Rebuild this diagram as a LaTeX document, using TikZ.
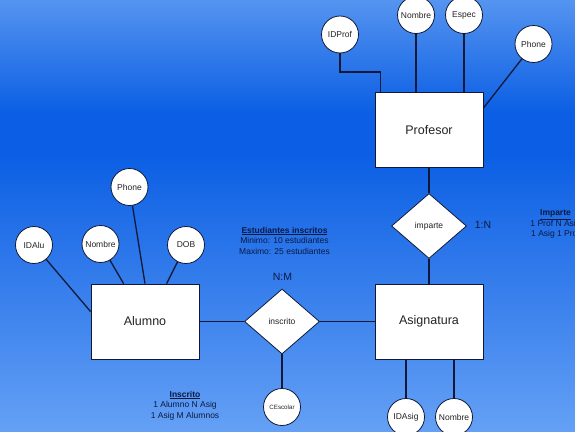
\documentclass[tikz,border=0pt]{standalone}
\usepackage{fontspec}
\setmainfont{Liberation Sans}
\usetikzlibrary{shapes.geometric,calc}
\definecolor{bgtop}{RGB}{85,148,240}
\definecolor{bgmid}{RGB}{12,95,228}
\definecolor{bgbot}{RGB}{100,160,245}
\definecolor{linec}{RGB}{15,25,55}
\definecolor{notec}{RGB}{12,25,65}
\definecolor{labc}{RGB}{35,35,40}
\pgfdeclareverticalshading{bgshade}{100bp}{color(0bp)=(bgbot); color(25bp)=(bgbot); color(57bp)=(bgmid); color(62bp)=(bgmid); color(75bp)=(bgtop); color(100bp)=(bgtop)}
\tikzset{
  entity/.style={rectangle, fill=white, draw=linec, line width=0.8pt, minimum width=108pt, minimum height=75pt, inner sep=0pt, text=labc, font=\fontsize{12.5}{15}\selectfont},
  attr/.style={circle, fill=white, draw=linec, line width=0.8pt, minimum size=37pt, inner sep=0pt, text=labc, font=\fontsize{8.5}{10}\selectfont},
  rel/.style={diamond, fill=white, draw=linec, line width=0.8pt, minimum width=75pt, minimum height=65pt, inner sep=0pt, text=labc, font=\fontsize{8.5}{10}\selectfont},
  conn/.style={draw=linec, line width=1.3pt},
  note/.style={align=center, text=notec, inner sep=0pt, font=\fontsize{8.5}{10.5}\selectfont},
  card/.style={text=notec, inner sep=0pt, font=\fontsize{10.5}{12}\selectfont}
}
\begin{document}
\begin{tikzpicture}[x=1pt,y=-1pt]
\useasboundingbox (0,0) rectangle (575,431);
\clip (0,0) rectangle (575,431);
\shade[shading=bgshade] (0,0) rectangle (575,431);

% entities
\node[entity] (prof) at (429,130) {Profesor};
\node[entity] (alu) at (145,321.5) {Alumno};
\node[entity] (asig) at (429,321.5) {Asignatura};

% relationships
\node[rel] (imparte) at (429,226) {imparte};
\node[rel] (inscrito) at (282,321.5) {inscrito};

% attributes
\node[attr] (idalu) at (34,245) {IDAlu};
\node[attr] (nomalu) at (100.5,244) {Nombre};
\node[attr] (phonealu) at (129.5,187) {Phone};
\node[attr] (dob) at (186,245) {DOB};
\node[attr] (idprof) at (340,34.5) {IDProf};
\node[attr] (nomprof) at (416,15) {Nombre};
\node[attr] (espec) at (464,15) {Espec};
\node[attr] (phoneprof) at (533.5,44) {Phone};
\node[attr, font=\fontsize{6.2}{8}\selectfont] (cescolar) at (282,407) {CEscolar};
\node[attr] (idasig) at (406,417) {IDAsig};
\node[attr] (nomasig) at (454,417) {Nombre};

% connectors
\path[conn] (idalu) -- ($(alu.north west)+(0,28)$);
\path[conn] (nomalu) -- ($(alu.north west)+(33,0)$);
\path[conn] (phonealu) -- (alu.north);
\path[conn] (dob) -- ($(alu.north west)+(76,0)$);
\path[conn] (idprof.south) |- ($(prof.north west)+(6,-20)$) -- ($(prof.north west)+(6,0)$);
\path[conn] (nomprof.south) -- (nomprof.south |- prof.north);
\path[conn] (espec.south) -- (espec.south |- prof.north);
\path[conn] (phoneprof) -- ($(prof.north east)+(0,16)$);
\path[conn] (prof.south) -- (imparte.north);
\path[conn] (imparte.south) -- (asig.north);
\path[conn] (alu.east) -- (inscrito.west);
\path[conn] (inscrito.east) -- (asig.west);
\path[conn] (inscrito.south) -- (cescolar.north);
\path[conn] (idasig.north |- asig.south) -- (idasig.north);
\path[conn] (nomasig.north |- asig.south) -- (nomasig.north);

% labels
\node[card] (c1n) at (483,225) {1:N};
\node[card] (cnm) at (282.4,277.3) {N:M};
\node[note] (est) at (284.5,240.5) {\textbf{\underline{Estudiantes inscritos}}\\Minimo: 10 estudiantes\\Maximo: 25 estudiantes};
\node[note] (insnote) at (185,405.5) {\textbf{\underline{Inscrito}}\\1 Alumno N Asig\\1 Asig M Alumnos};
\node[note] (impnote) at (555.5,224) {\textbf{\underline{Imparte}}\\1 Prof N Asig\\1 Asig 1 Prof};
\end{tikzpicture}
\end{document}
